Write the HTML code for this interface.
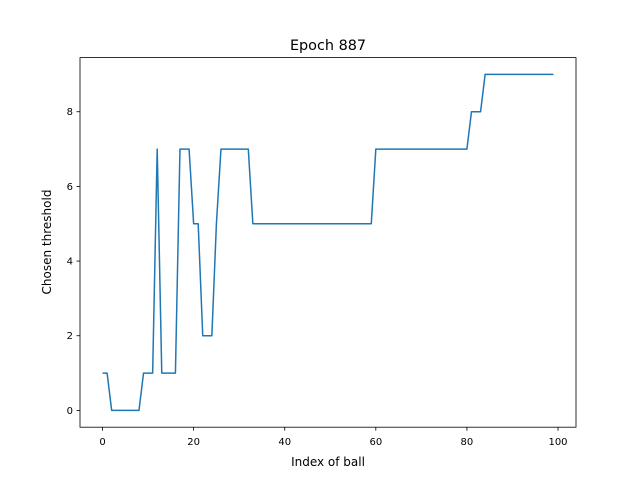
<!DOCTYPE html>
<html><head><meta charset="utf-8"><style>
body{margin:0;background:#fff;font-family:"Liberation Sans","DejaVu Sans",sans-serif}
text{font-family:"DejaVu Sans","Liberation Sans",sans-serif}
</style></head><body>
<svg id="chart" width="640" height="480" xmlns="http://www.w3.org/2000/svg">
<rect width="640" height="480" fill="#fff"/>
<text x="328" y="50" font-size="14.4" text-anchor="middle">Epoch 887</text>
<g id="ticks"></g>
<path id="line" fill="none" stroke="#1f77b4" stroke-width="1.5" stroke-linejoin="round"/>
<rect x="80" y="57.6" width="496" height="369.6" fill="none" stroke="#000" stroke-width="0.8"/>
<text x="328" y="466" font-size="12" text-anchor="middle">Index of ball</text>
<text transform="translate(51,242) rotate(-90)" font-size="12" text-anchor="middle">Chosen threshold</text>
</svg>
<script>
const thresholds=[1,1,0,0,0,0,0,0,0,1,1,1,7,1,1,1,1,7,7,7,5,5,2,2,2,5,7,7,7,7,7,7,7,5,
5,5,5,5,5,5,5,5,5,5,5,5,5,5,5,5,5,5,5,5,5,5,5,5,5,5,
7,7,7,7,7,7,7,7,7,7,7,7,7,7,7,7,7,7,7,7,7,8,8,8,
9,9,9,9,9,9,9,9,9,9,9,9,9,9,9,9];
const xTicks=[0,20,40,60,80,100];
const yTicks=[0,2,4,6,8];
const xs=v=>80+(v+4.95)*496/108.9;
const ys=v=>427.2-(v+0.45)*369.6/9.9;
const ns="http://www.w3.org/2000/svg";
const g=document.getElementById('ticks');
function mk(t,a){const e=document.createElementNS(ns,t);for(const k in a)e.setAttribute(k,a[k]);g.appendChild(e);return e;}
xTicks.forEach(v=>{
 const l=mk('line',{x1:xs(v),x2:xs(v),y1:427.2,y2:430.7,stroke:'#000','stroke-width':0.8});
 
 
 const t=mk('text',{x:xs(v),y:445,'font-size':10,'text-anchor':'middle'});t.textContent=v;
 
 
});
yTicks.forEach(v=>{
 const l=mk('line',{x1:76.5,x2:80,y1:ys(v),y2:ys(v),stroke:'#000','stroke-width':0.8});
 
 
 const t=mk('text',{x:73,y:ys(v)+3.5,'font-size':10,'text-anchor':'end'});t.textContent=v;
 
 
});
document.getElementById('line').setAttribute('d',thresholds.map((v,i)=>(i?'L':'M')+xs(i).toFixed(2)+','+ys(v).toFixed(2)).join(''));
</script>
</body></html>
